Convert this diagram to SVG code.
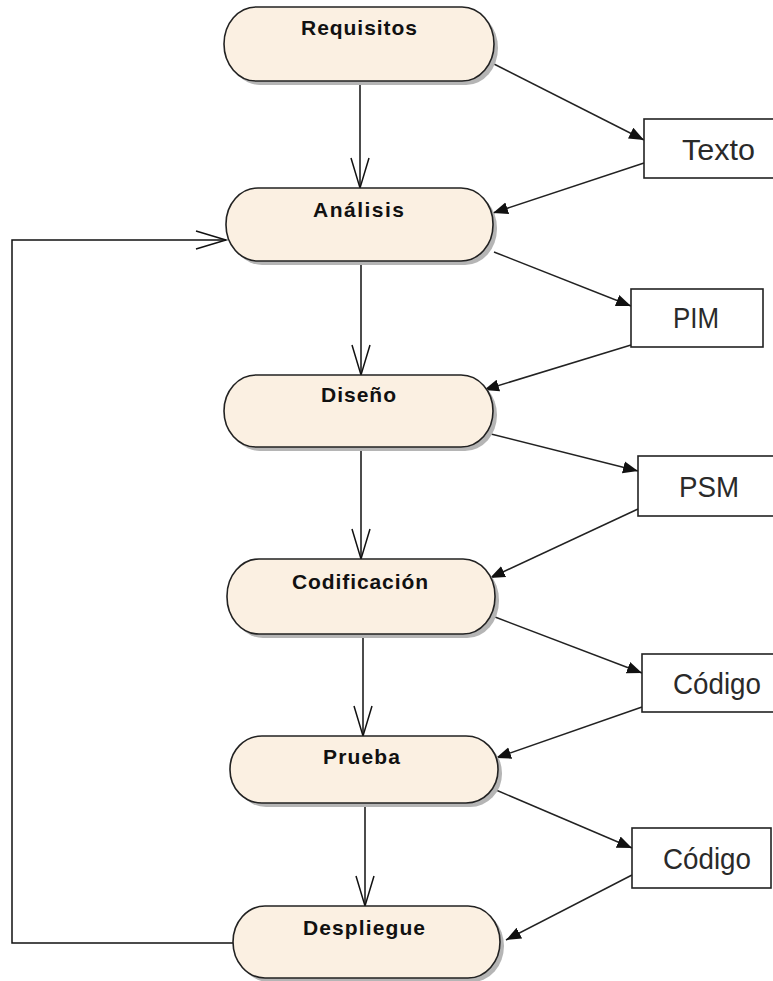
<svg xmlns="http://www.w3.org/2000/svg" width="773" height="981" viewBox="0 0 773 981">
<style>
.shadow{fill:#b5b5b5;stroke:none}
.act{fill:#fbf0e2;stroke:#222;stroke-width:1.6}
.lbl{font-family:"Liberation Sans",Arial,sans-serif;font-weight:bold;font-size:21px;fill:#111;text-anchor:start}
.box{fill:#fff;stroke:#222;stroke-width:1.6}
.btxt{font-family:"Liberation Sans",Arial,sans-serif;font-size:29px;fill:#2a2a2a}
.flow{fill:none;stroke:#111;stroke-width:1.5;marker-end:url(#open)}
.obj{fill:none;stroke:#222;stroke-width:1.5;marker-end:url(#solid)}
</style>
<defs>
<marker id="open" markerUnits="userSpaceOnUse" markerWidth="34" markerHeight="22" refX="31" refY="10" orient="auto" viewBox="0 0 34 22">
<path d="M1,1 L31,10 L1,19" fill="none" stroke="#111" stroke-width="1.5"/>
</marker>
<marker id="solid" markerUnits="userSpaceOnUse" markerWidth="16" markerHeight="14" refX="15" refY="7" orient="auto" viewBox="0 0 16 14">
<path d="M0,1 L15,7 L0,13 z" fill="#111"/>
</marker>
</defs>

<g id="connectors">
<path class="flow" d="M360,81 L360,188"/>
<path class="flow" d="M361,261 L361,375"/>
<path class="flow" d="M361,447 L361,559"/>
<path class="flow" d="M363,634 L363,736"/>
<path class="flow" d="M365,803 L365,906"/>
<path class="flow" d="M233,943 L12,943 L12,240 L226,240"/>
<path class="obj" d="M494,64 L644,140"/>
<path class="obj" d="M644,163 L493,213"/>
<path class="obj" d="M494,252 L631,306"/>
<path class="obj" d="M631,345 L484,390"/>
<path class="obj" d="M487,433 L638,471"/>
<path class="obj" d="M638,509 L490,578"/>
<path class="obj" d="M495,617 L642,673"/>
<path class="obj" d="M642,707 L496,758"/>
<path class="obj" d="M496,790 L632,848"/>
<path class="obj" d="M632,875 L506,940"/>
</g>

<g id="requisitos">
<rect class="shadow" x="228" y="11" width="270" height="74" rx="32" ry="37"/>
<rect class="act" x="224" y="7" width="270" height="74" rx="32" ry="37"/>
<text class="lbl" x="301" y="35" textLength="116" lengthAdjust="spacing">Requisitos</text>
</g>
<g id="analisis">
<rect class="shadow" x="230" y="192" width="267" height="73" rx="32" ry="36"/>
<rect class="act" x="226" y="188" width="267" height="73" rx="32" ry="36"/>
<text class="lbl" x="313" y="217" textLength="91" lengthAdjust="spacing">Análisis</text>
</g>
<g id="diseno">
<rect class="shadow" x="228" y="379" width="269" height="72" rx="32" ry="36"/>
<rect class="act" x="224" y="375" width="269" height="72" rx="32" ry="36"/>
<text class="lbl" x="321" y="402" textLength="75" lengthAdjust="spacing">Diseño</text>
</g>
<g id="codificacion">
<rect class="shadow" x="231" y="563" width="268" height="75" rx="32" ry="37"/>
<rect class="act" x="227" y="559" width="268" height="75" rx="32" ry="37"/>
<text class="lbl" x="292" y="589" textLength="136" lengthAdjust="spacing">Codificación</text>
</g>
<g id="prueba">
<rect class="shadow" x="234" y="740" width="268" height="67" rx="32" ry="33"/>
<rect class="act" x="230" y="736" width="268" height="67" rx="32" ry="33"/>
<text class="lbl" x="323" y="764" textLength="77" lengthAdjust="spacing">Prueba</text>
</g>
<g id="despliegue">
<rect class="shadow" x="237" y="910" width="267" height="72" rx="32" ry="36"/>
<rect class="act" x="233" y="906" width="267" height="72" rx="32" ry="36"/>
<text class="lbl" x="303" y="935" textLength="122" lengthAdjust="spacing">Despliegue</text>
</g>

<g id="texto">
<rect class="box" x="644" y="119" width="140" height="59"/>
<text class="btxt" x="682" y="160" textLength="73" lengthAdjust="spacingAndGlyphs">Texto</text>
</g>
<g id="pim">
<rect class="box" x="631" y="289" width="132" height="58"/>
<text class="btxt" x="673" y="328" textLength="46" lengthAdjust="spacingAndGlyphs">PIM</text>
</g>
<g id="psm">
<rect class="box" x="638" y="456" width="146" height="60"/>
<text class="btxt" x="679" y="497" textLength="60" lengthAdjust="spacingAndGlyphs">PSM</text>
</g>
<g id="codigo1">
<rect class="box" x="642" y="654" width="142" height="58"/>
<text class="btxt" x="673" y="694" textLength="88" lengthAdjust="spacingAndGlyphs">Código</text>
</g>
<g id="codigo2">
<rect class="box" x="632" y="828" width="139" height="60"/>
<text class="btxt" x="663" y="869" textLength="88" lengthAdjust="spacingAndGlyphs">Código</text>
</g>
</svg>
